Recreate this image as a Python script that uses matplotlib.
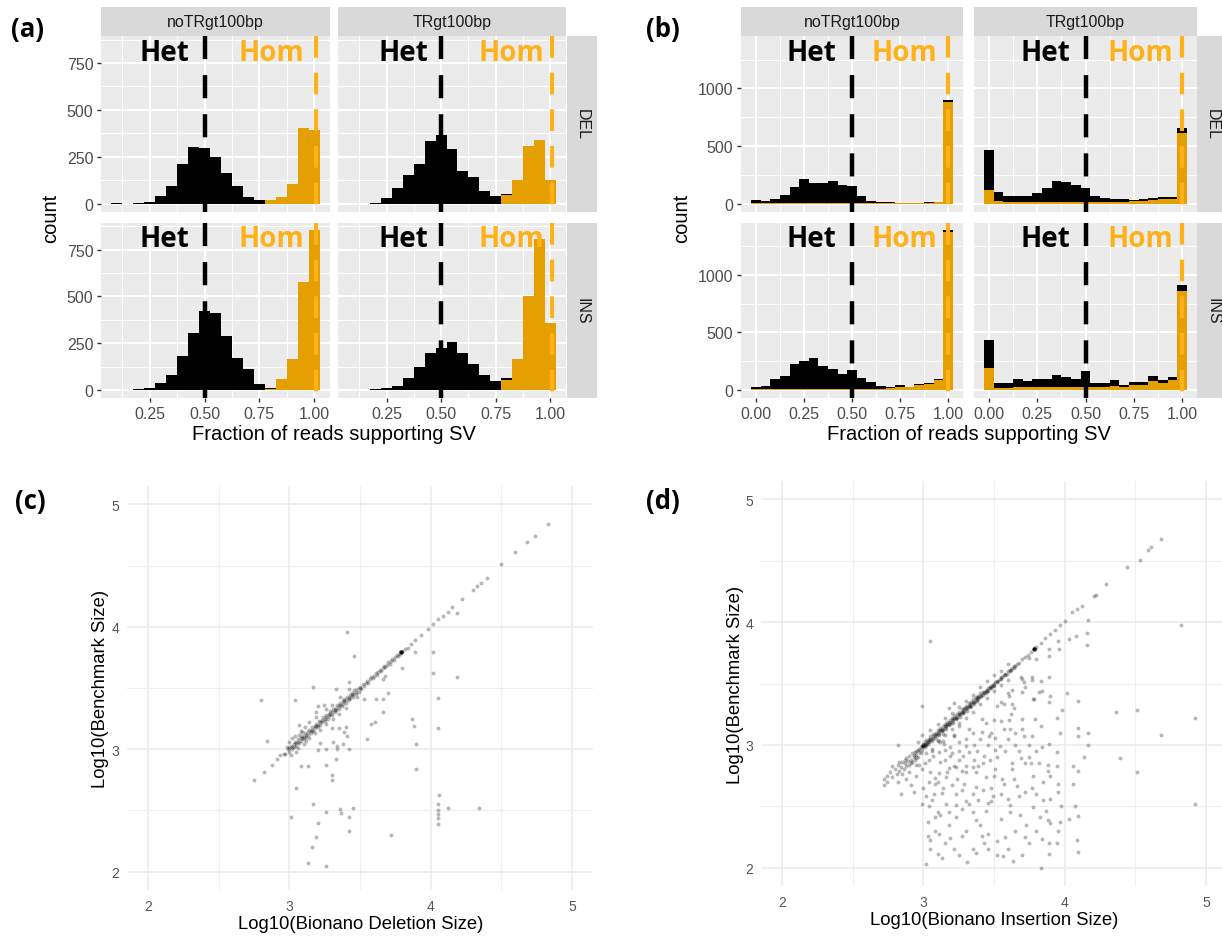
import matplotlib
matplotlib.use('Agg')
import matplotlib.pyplot as plt
from matplotlib.patches import Rectangle
import numpy as np

plt.rcParams['font.family'] = ['Liberation Sans', 'DejaVu Sans']

# ---------------- data: panel (a) ----------------
a_bins = [0.10, 0.15, 0.20, 0.25, 0.30, 0.35, 0.40, 0.45, 0.50, 0.55,
          0.60, 0.65, 0.70, 0.75, 0.80, 0.85, 0.90, 0.95, 1.00]
a_noTR_DEL_het = [2, 0, 3, 9, 42, 91, 212, 302, 299, 250, 163, 91, 33, 18, 0, 0, 0, 0, 0]
a_noTR_DEL_hom = [0, 0, 0, 0, 0, 0, 0, 0, 0, 0, 0, 0, 0, 0, 18, 33, 103, 404, 393]
a_TR_DEL_het = [0, 0, 5, 27, 82, 152, 211, 332, 368, 291, 175, 139, 68, 40, 5, 0, 0, 0, 0]
a_TR_DEL_hom = [0, 0, 0, 0, 0, 0, 0, 0, 0, 0, 0, 0, 0, 0, 45, 125, 308, 340, 128]
a_noTR_INS_het = [0, 0, 3, 12, 36, 80, 182, 302, 420, 411, 289, 170, 114, 30, 5, 0, 0, 0, 0]
a_noTR_INS_hom = [0, 0, 0, 0, 0, 0, 0, 0, 0, 0, 0, 0, 0, 0, 8, 57, 164, 579, 852]
a_TR_INS_het = [0, 0, 3, 12, 21, 62, 123, 200, 227, 254, 200, 141, 80, 48, 8, 0, 0, 0, 0]
a_TR_INS_hom = [0, 0, 0, 0, 0, 0, 0, 0, 0, 0, 0, 0, 0, 0, 55, 168, 504, 805, 356]

# ---------------- data: panel (b) ----------------
b_bins = [0.00, 0.05, 0.10, 0.15, 0.20, 0.25, 0.30, 0.35, 0.40, 0.45, 0.50,
          0.55, 0.60, 0.65, 0.70, 0.75, 0.80, 0.85, 0.90, 0.95, 1.00]
b_noTR_DEL_het = [21, 15, 33, 68, 140, 204, 175, 169, 190, 155, 149, 63, 23, 12, 6, 3, 2, 2, 3, 3, 15]
b_noTR_DEL_hom = [8, 5, 5, 5, 5, 5, 5, 5, 5, 5, 5, 4, 3, 3, 3, 3, 4, 4, 6, 12, 880]
b_TR_DEL_het = [347, 73, 49, 49, 49, 77, 121, 184, 170, 150, 121, 52, 37, 25, 25, 14, 15, 17, 18, 13, 43]
b_TR_DEL_hom = [121, 25, 15, 15, 15, 15, 15, 15, 15, 15, 15, 12, 12, 15, 15, 18, 25, 32, 40, 42, 613]
b_noTR_INS_het = [21, 27, 84, 113, 213, 241, 270, 198, 169, 126, 161, 95, 57, 23, 11, 10, 7, 9, 12, 13, 10]
b_noTR_INS_hom = [8, 8, 8, 8, 10, 10, 10, 10, 10, 10, 12, 12, 12, 12, 15, 30, 22, 40, 52, 85, 1375]
b_TR_INS_het = [240, 44, 44, 70, 56, 73, 67, 105, 88, 67, 135, 33, 34, 49, 18, 29, 24, 41, 24, 23, 56]
b_TR_INS_hom = [194, 20, 20, 22, 22, 25, 25, 25, 25, 25, 30, 25, 30, 35, 25, 40, 45, 80, 60, 90, 860]

facet_cols = ['noTRgt100bp', 'TRgt100bp']
facet_rows = ['DEL', 'INS']

# ---------------- data: panel (c) (log10 sizes) ----------------
c_points = [
    (3.41, 3.96), (3.46, 3.76), (3.17, 3.51), (3.04, 3.40), (2.80, 3.40), (2.84, 3.07),
    (2.75, 2.75), (2.82, 2.81), (2.875, 2.87), (2.91, 2.92), (2.93, 2.95), (2.96, 2.96),
    (3.33, 3.49), (3.42, 3.55), (3.525, 3.41), (3.61, 3.41), (3.66, 3.41), (3.70, 3.46),
    (3.66, 3.30), (3.58, 3.21), (3.605, 3.22), (3.55, 3.08), (3.865, 3.245), (3.88, 3.19),
    (3.90, 3.04), (3.90, 2.84), (4.05, 3.42), (4.05, 3.17), (4.02, 3.79), (4.02, 3.62),
    (4.19, 3.59), (4.19, 4.11), (3.89, 3.79), (3.80, 3.66), (3.66, 3.57), (3.68, 3.60),
    (3.07, 3.20), (3.09, 3.14), (3.19, 3.30), (3.20, 3.35), (3.245, 3.36), (3.30, 3.17),
    (3.35, 3.17), (3.40, 3.18), (3.39, 3.14), (3.405, 3.11), (3.31, 3.06), (3.34, 3.03),
    (3.38, 3.04), (3.42, 3.005), (3.34, 3.00), (3.26, 3.005), (3.205, 2.99), (3.22, 3.05),
    (3.26, 2.87), (3.30, 2.79), (3.30, 2.75), (3.33, 2.92), (3.08, 2.86), (3.13, 2.86),
    (3.045, 2.68), (3.17, 2.55), (3.26, 2.49), (3.36, 2.51), (3.365, 2.48), (3.45, 2.52),
    (3.42, 2.45), (3.01, 2.45), (3.20, 2.40), (3.42, 2.33), (3.19, 2.28), (3.16, 2.20),
    (3.13, 2.07), (3.26, 2.05), (3.72, 2.30), (4.06, 2.625), (4.05, 2.55), (4.05, 2.50),
    (4.05, 2.47), (4.05, 2.44), (4.05, 2.39), (4.12, 2.52), (4.34, 2.52),
    (4.02, 4.02), (3.98, 3.98), (3.93, 3.93), (3.89, 3.89), (3.84, 3.83), (4.05, 4.06),
    (4.09, 4.09), (4.12, 4.12), (4.15, 4.16), (4.225, 4.23), (4.30, 4.30), (4.33, 4.33),
    (4.36, 4.36), (4.40, 4.40), (4.50, 4.51), (4.60, 4.61), (4.68, 4.69), (4.74, 4.74),
    (4.83, 4.84),
    (2.97, 2.96), (2.99, 3.00), (3.00, 2.98), (3.00, 3.01), (3.01, 3.03), (3.02, 3.00),
    (3.03, 3.04), (3.03, 3.02), (3.04, 3.06), (3.05, 3.03), (3.05, 3.05), (3.06, 3.08),
    (3.07, 3.05), (3.08, 3.09), (3.08, 3.07), (3.09, 3.11), (3.10, 3.08), (3.10, 3.10),
    (3.11, 3.13), (3.12, 3.10), (3.13, 3.14), (3.13, 3.12), (3.14, 3.16), (3.15, 3.13),
    (3.15, 3.15), (3.16, 3.18), (3.17, 3.15), (3.18, 3.19), (3.18, 3.17), (3.19, 3.21),
    (3.20, 3.18), (3.20, 3.20), (3.21, 3.23), (3.22, 3.20), (3.23, 3.24), (3.23, 3.22),
    (3.24, 3.26), (3.25, 3.23), (3.25, 3.25), (3.26, 3.28), (3.27, 3.25), (3.28, 3.29),
    (3.28, 3.27), (3.29, 3.31), (3.30, 3.28), (3.30, 3.30), (3.31, 3.33), (3.32, 3.30),
    (3.33, 3.34), (3.33, 3.32), (3.34, 3.36), (3.35, 3.33), (3.35, 3.35), (3.36, 3.38),
    (3.37, 3.35), (3.38, 3.39), (3.38, 3.37), (3.39, 3.41), (3.40, 3.38), (3.40, 3.40),
    (3.41, 3.43), (3.42, 3.40), (3.43, 3.44), (3.43, 3.42), (3.44, 3.46), (3.45, 3.43),
    (3.45, 3.45), (3.46, 3.48), (3.47, 3.45), (3.48, 3.49), (3.49, 3.47), (3.50, 3.51),
    (3.51, 3.49), (3.52, 3.53), (3.53, 3.52), (3.55, 3.56), (3.56, 3.54), (3.58, 3.59),
    (3.59, 3.58), (3.61, 3.62), (3.62, 3.61), (3.64, 3.65), (3.65, 3.64), (3.67, 3.68),
    (3.68, 3.67), (3.70, 3.71), (3.71, 3.70), (3.73, 3.74), (3.74, 3.73), (3.76, 3.77),
    (3.77, 3.76), (3.78, 3.78), (3.79, 3.79), (3.79, 3.79), (3.79, 3.79), (3.79, 3.79),
    (3.79, 3.79), (3.79, 3.79), (3.80, 3.79), (3.78, 3.79), (3.80, 3.80), (3.82, 3.82),
    (3.86, 3.86), (3.04, 3.11), (3.08, 3.15), (3.11, 3.18), (3.06, 3.01), (3.10, 3.04),
    (3.14, 3.09), (3.18, 3.13), (3.22, 3.16), (3.26, 3.21), (3.14, 3.22), (3.19, 3.26),
    (3.26, 3.33), (3.30, 3.36), (3.31, 3.25), (3.35, 3.29), (3.40, 3.34), (3.36, 3.43),
    (3.42, 3.49), (3.48, 3.43), (3.00, 3.06), (3.02, 3.09), (2.98, 3.02), (3.01, 2.95),
    (3.05, 2.98), (3.07, 3.12), (3.12, 3.07),
    (3.02, 3.02), (3.06, 3.06), (3.09, 3.09), (3.12, 3.12), (3.16, 3.16), (3.19, 3.19),
    (3.22, 3.22), (3.26, 3.26), (3.29, 3.29), (3.32, 3.32), (3.36, 3.36), (3.39, 3.39),
    (3.42, 3.42), (3.44, 3.44), (3.47, 3.47), (3.50, 3.50), (3.54, 3.54), (3.57, 3.57),
    (3.60, 3.60), (3.63, 3.63), (3.66, 3.66), (3.69, 3.69), (3.72, 3.72), (3.75, 3.75),
]

# ---------------- data: panel (d) (log10 sizes) ----------------
d_points = [
    (4.68, 4.68), (4.61, 4.61), (4.59, 4.59), (4.535, 4.505), (4.44, 4.45), (4.295, 4.31),
    (4.22, 4.22), (4.21, 4.21), (4.12, 4.13), (4.09, 4.11), (4.05, 4.08), (4.005, 4.01),
    (3.97, 3.98), (3.93, 3.94), (3.90, 3.90), (3.86, 3.87), (3.83, 3.83),
    (4.825, 3.98), (3.05, 3.845), (4.165, 4.02), (4.16, 3.91), (4.16, 3.81), (4.08, 3.89),
    (4.03, 3.86), (3.95, 3.85), (3.96, 3.785), (3.89, 3.785), (3.89, 3.725), (3.80, 3.70),
    (3.745, 3.71), (3.69, 3.55), (3.77, 3.55), (3.89, 3.55), (3.71, 3.51), (3.84, 3.44),
    (3.775, 3.37), (3.90, 3.40), (3.89, 3.35), (4.015, 3.42), (4.095, 3.36), (3.98, 3.285),
    (3.945, 3.215), (3.97, 3.095), (4.095, 3.14), (4.165, 3.095), (4.095, 3.07), (4.165, 3.0),
    (3.89, 3.01), (3.84, 2.98), (3.945, 2.94), (3.88, 2.84), (3.945, 2.83), (3.88, 2.79),
    (4.06, 2.83), (4.095, 2.79), (4.135, 2.90), (4.06, 2.68), (3.95, 2.68), (3.95, 2.62),
    (3.90, 2.56), (3.975, 2.50), (4.075, 2.50), (4.095, 2.42), (4.03, 2.40), (3.97, 2.37),
    (3.95, 2.30), (3.90, 2.36), (3.825, 2.41), (3.87, 2.46), (3.88, 2.39), (3.84, 2.23),
    (3.89, 2.20), (3.945, 2.20), (4.09, 2.225), (4.095, 2.13), (3.89, 2.11), (3.83, 2.0),
    (3.635, 2.055), (3.565, 2.095), (3.46, 2.155), (3.43, 2.20), (3.37, 2.12), (3.31, 2.045),
    (3.22, 2.15), (3.13, 2.075), (3.10, 2.11), (3.02, 2.03), (3.03, 2.26), (3.05, 2.225),
    (3.11, 2.27), (3.19, 2.245), (3.27, 2.26), (3.415, 2.26), (3.46, 2.27), (3.52, 2.22),
    (3.03, 2.37), (3.085, 2.41), (3.12, 2.43), (3.18, 2.45), (3.23, 2.41), (3.37, 2.39),
    (3.445, 2.46), (3.46, 2.53), (3.32, 2.52), (3.23, 2.51), (3.04, 2.50), (2.99, 2.52),
    (3.61, 2.51), (3.615, 2.45), (3.685, 2.43), (3.73, 2.35), (3.775, 2.49),
    (3.075, 2.60), (3.13, 2.61), (3.23, 2.60), (3.30, 2.545), (3.39, 2.55), (3.48, 2.545),
    (3.49, 2.585), (3.37, 2.66), (3.48, 2.645), (3.555, 2.725), (3.57, 2.68), (3.64, 2.72),
    (3.66, 2.665), (3.77, 2.65), (3.775, 2.745), (3.72, 2.85), (3.765, 2.85), (3.82, 2.85),
    (3.69, 2.89), (3.63, 2.85), (3.63, 2.80), (3.51, 2.80), (3.50, 2.745), (3.445, 2.74),
    (3.37, 2.78), (3.30, 2.83), (3.30, 2.775), (3.23, 2.82), (3.18, 2.81), (3.11, 2.77),
    (3.085, 2.73), (3.04, 2.70), (3.10, 2.70), (3.16, 2.74), (3.24, 2.72), (3.285, 2.68),
    (2.91, 2.67), (2.84, 2.60), (2.82, 2.70), (2.72, 2.67), (2.74, 2.75), (2.78, 2.83),
    (2.825, 2.86), (2.87, 2.88), (2.91, 2.855), (2.945, 2.89), (2.97, 2.84), (2.99, 2.80),
    (3.01, 2.85), (3.04, 2.88), (3.065, 2.91), (3.11, 2.94), (3.155, 2.88), (3.19, 2.91),
    (3.22, 2.83), (3.255, 2.88), (3.28, 2.91), (3.32, 2.94), (3.355, 2.88), (3.39, 2.83),
    (3.43, 2.91), (3.47, 2.88), (3.505, 2.96), (3.54, 2.99), (3.51, 3.06), (3.465, 3.07),
    (3.415, 3.105), (3.44, 3.18), (3.415, 3.21), (3.36, 3.0), (3.30, 2.99), (3.25, 3.02),
    (3.19, 2.98), (3.145, 3.005), (3.10, 3.03), (3.14, 3.09), (3.215, 3.07), (3.255, 3.15),
    (3.32, 3.13), (3.57, 3.13), (3.55, 3.195), (3.605, 3.20), (3.61, 3.13), (3.70, 3.21),
    (3.71, 3.07), (3.77, 3.07), (3.83, 3.15), (3.79, 3.21), (3.70, 3.13), (3.645, 3.30),
    (3.63, 3.33), (3.605, 3.40), (3.60, 3.425), (3.63, 3.45), (3.52, 3.32), (3.57, 3.33),
    (3.70, 3.43), (3.72, 3.47), (3.78, 3.37), (3.82, 3.43), (3.70, 3.535), (3.77, 3.53),
    (3.835, 3.52), (4.365, 3.27), (4.51, 3.285), (4.925, 3.22), (4.685, 3.08), (4.395, 2.89),
    (4.51, 2.78), (4.92, 2.52), (2.99, 3.32), (2.82, 3.0),
    (3.06, 2.95), (3.15, 2.96), (3.20, 2.93), (3.25, 2.95), (3.12, 2.86), (3.17, 2.78),
    (3.27, 2.79), (3.35, 2.82), (3.42, 2.85), (3.38, 2.95), (3.46, 3.00), (3.52, 2.90),
    (3.58, 2.95), (3.60, 3.05), (3.65, 3.00), (3.68, 2.95), (3.05, 2.78), (3.08, 2.68),
    (3.14, 2.65), (3.20, 2.67), (3.27, 2.63), (3.35, 2.60), (3.42, 2.63), (3.55, 2.60),
    (3.60, 2.56), (3.68, 2.58), (3.72, 2.62), (3.06, 2.55), (3.16, 2.52), (3.27, 2.48),
    (3.35, 2.45), (3.55, 2.40), (3.65, 2.30), (3.72, 2.25), (3.60, 2.15), (3.52, 2.10),
    (3.25, 2.10), (3.18, 2.35), (3.30, 2.30), (3.08, 2.30), (3.40, 2.35), (3.00, 2.65),
    (2.95, 2.75), (2.88, 2.72), (2.93, 2.62), (3.02, 2.58), (3.10, 2.45), (3.05, 2.15),
    (3.15, 2.20), (3.35, 2.15), (3.58, 2.25), (3.80, 2.30), (3.75, 2.20), (3.70, 2.10),
    (3.85, 2.55), (3.80, 2.60), (3.85, 2.70), (3.90, 2.75), (3.75, 2.90), (3.80, 2.95),
    (3.65, 3.10), (3.75, 3.00), (3.62, 3.25), (3.55, 3.35), (3.50, 3.20), (3.48, 3.10),
    (3.40, 3.05), (3.35, 3.10), (3.30, 3.05), (3.22, 3.08), (3.14, 3.03),
    (2.72, 2.72), (2.74, 2.70), (2.76, 2.78), (2.78, 2.74), (2.80, 2.80), (2.81, 2.76),
    (2.82, 2.84), (2.83, 2.79), (2.84, 2.82), (2.85, 2.86), (2.86, 2.80), (2.87, 2.85),
    (2.88, 2.89), (2.88, 2.83), (2.89, 2.87), (2.90, 2.91), (2.90, 2.84), (2.91, 2.88),
    (2.92, 2.93), (2.92, 2.86), (2.93, 2.90), (2.94, 2.94), (2.94, 2.88), (2.95, 2.92),
    (2.96, 2.96), (2.96, 2.90), (2.97, 2.94), (2.98, 2.98), (2.98, 2.93), (2.99, 2.96),
    (3.00, 3.00), (3.00, 2.99), (3.00, 2.99), (3.00, 2.99), (3.01, 3.00), (3.01, 2.98),
    (3.01, 3.02), (3.02, 3.01), (3.02, 3.04), (3.03, 3.01), (3.03, 3.03), (3.04, 3.05),
    (3.04, 3.02), (3.05, 3.04), (3.05, 3.07), (3.06, 3.05), (3.06, 3.03), (3.07, 3.07),
    (3.07, 3.09), (3.08, 3.06), (3.08, 3.08), (3.09, 3.10), (3.09, 3.07), (3.10, 3.09),
    (3.10, 3.12), (3.11, 3.10), (3.11, 3.08), (3.12, 3.12), (3.12, 3.14), (3.13, 3.11),
    (3.13, 3.13), (3.14, 3.15), (3.14, 3.12), (3.15, 3.14), (3.15, 3.17), (3.16, 3.15),
    (3.16, 3.13), (3.17, 3.17), (3.17, 3.19), (3.18, 3.16), (3.18, 3.18), (3.19, 3.20),
    (3.19, 3.17), (3.20, 3.19), (3.20, 3.22), (3.21, 3.20), (3.21, 3.18), (3.22, 3.22),
    (3.22, 3.24), (3.23, 3.21), (3.23, 3.23), (3.24, 3.25), (3.24, 3.22), (3.25, 3.24),
    (3.25, 3.27), (3.26, 3.25), (3.26, 3.23), (3.27, 3.27), (3.27, 3.29), (3.28, 3.26),
    (3.28, 3.28), (3.29, 3.30), (3.29, 3.27), (3.30, 3.29), (3.30, 3.32), (3.31, 3.30),
    (3.31, 3.28), (3.32, 3.32), (3.32, 3.34), (3.33, 3.31), (3.33, 3.33), (3.34, 3.35),
    (3.34, 3.32), (3.35, 3.34), (3.35, 3.37), (3.36, 3.35), (3.36, 3.33), (3.37, 3.37),
    (3.37, 3.39), (3.38, 3.36), (3.38, 3.38), (3.39, 3.40), (3.39, 3.37), (3.40, 3.39),
    (3.40, 3.42), (3.41, 3.40), (3.42, 3.41), (3.42, 3.43), (3.43, 3.42), (3.44, 3.44),
    (3.44, 3.42), (3.45, 3.45), (3.46, 3.46), (3.46, 3.44), (3.47, 3.47), (3.48, 3.48),
    (3.48, 3.46), (3.49, 3.49), (3.50, 3.50), (3.50, 3.48), (3.51, 3.51), (3.52, 3.52),
    (3.53, 3.52), (3.54, 3.54), (3.55, 3.55), (3.56, 3.55), (3.57, 3.57), (3.58, 3.58),
    (3.59, 3.58), (3.60, 3.60), (3.61, 3.61), (3.62, 3.61), (3.63, 3.63), (3.64, 3.64),
    (3.65, 3.64), (3.66, 3.66), (3.68, 3.67), (3.70, 3.70), (3.72, 3.72), (3.74, 3.73),
    (3.76, 3.76), (3.78, 3.78), (3.78, 3.79), (3.78, 3.78), (3.78, 3.78), (3.78, 3.78),
    (3.78, 3.78), (3.78, 3.78), (3.79, 3.78), (3.80, 3.80),
    (3.05, 3.12), (3.10, 3.17), (3.15, 3.22), (3.20, 3.26), (3.25, 3.31), (3.30, 3.36),
    (3.35, 3.41), (3.22, 3.34), (3.18, 3.30), (3.10, 3.04), (3.15, 3.08), (3.20, 3.13),
    (3.25, 3.18), (3.30, 3.22), (3.35, 3.27), (3.40, 3.33), (3.45, 3.38), (3.50, 3.44),
    (3.55, 3.49), (3.60, 3.53), (2.95, 2.84), (2.90, 2.78), (2.85, 2.76), (3.02, 2.93),
    (3.06, 2.97), (3.12, 3.02), (2.99, 3.08), (2.96, 3.02), (3.40, 3.47), (3.45, 3.52),
    (3.50, 3.57), (3.55, 3.60), (3.60, 3.66),
    (3.01, 3.01), (3.03, 3.02), (3.05, 3.05), (3.07, 3.06), (3.09, 3.09), (3.11, 3.11),
    (3.13, 3.12), (3.15, 3.15), (3.17, 3.16), (3.19, 3.19), (3.21, 3.21), (3.23, 3.22),
    (3.25, 3.25), (3.27, 3.26), (3.29, 3.29), (3.31, 3.31), (3.33, 3.32), (3.35, 3.35),
    (3.37, 3.36), (3.39, 3.39), (3.41, 3.41), (3.43, 3.43), (3.45, 3.44), (3.47, 3.46),
    (3.49, 3.48), (3.52, 3.51), (3.55, 3.54), (3.58, 3.57), (3.61, 3.60), (3.64, 3.63),
    (2.97, 2.97), (2.99, 2.99), (3.00, 3.01), (3.02, 3.00), (2.95, 2.95), (2.93, 2.92),
]

# ---------------- layout helpers (pixel coordinates) ----------------
W, H = 1222, 937
fig = plt.figure(figsize=(W / 100, H / 100), dpi=100)
fig.patch.set_facecolor('white')

ORANGE_BAR = '#E69F00'
ORANGE_LINE = '#FFB11B'
STRIP = '#D9D9D9'
PANEL = '#EBEBEB'


def rect(x0, y0, x1, y1):
    return [x0 / W, 1 - y1 / H, (x1 - x0) / W, (y1 - y0) / H]


def ftext(x, y, s, **kw):
    kw.setdefault('ha', 'center')
    kw.setdefault('va', 'center')
    fig.text(x / W, 1 - y / H, s, **kw)


def fbox(x0, y0, x1, y1, color):
    fig.add_artist(Rectangle((x0 / W, 1 - y1 / H), (x1 - x0) / W, (y1 - y0) / H,
                             transform=fig.transFigure, facecolor=color,
                             edgecolor='none', zorder=0))


def hist_facet(box, centers, het, hom, xlim, ylim, xmaj, xlab, xmin, ymaj, ylab, ymin,
               show_x, show_y, het_x, hom_x, txt_y, hom_line_x):
    ax = fig.add_axes(rect(*box))
    ax.set_facecolor(PANEL)
    c = np.array(centers)
    edges = np.append(c - 0.025, c[-1] + 0.025)
    het = np.array(het, dtype=float)
    hom = np.array(hom, dtype=float)
    ax.stairs(hom, edges, baseline=0, fill=True, color=ORANGE_BAR, lw=0, zorder=2)
    ax.stairs(hom + het, edges, baseline=hom, fill=True, color='black', lw=0, zorder=2)
    ax.set_xlim(*xlim)
    ax.set_ylim(*ylim)
    ax.set_xticks(xmaj)
    ax.set_xticklabels(xlab)
    ax.set_xticks(xmin, minor=True)
    ax.set_yticks(ymaj)
    ax.set_yticklabels(ylab)
    ax.set_yticks(ymin, minor=True)
    ax.set_axisbelow(True)
    ax.grid(True, which='major', color='white', lw=1.4)
    ax.grid(True, which='minor', color='white', lw=0.7)
    for s in ax.spines.values():
        s.set_visible(False)
    ax.tick_params(which='minor', length=0)
    ax.tick_params(which='major', length=3, width=1.0, color='#333333',
                   labelsize=11.5, labelcolor='#4D4D4D', pad=2.5)
    ax.tick_params(axis='x', bottom=show_x, labelbottom=show_x)
    ax.tick_params(axis='y', left=show_y, labelleft=show_y)
    dash = (0, (5.2, 3.6))
    ax.plot([0.5, 0.5], [ylim[1], ylim[0]], color='black', lw=3.2,
            linestyle=dash, zorder=4)
    ax.plot([hom_line_x, hom_line_x], [ylim[1], ylim[0]], color=ORANGE_LINE,
            lw=3.0, linestyle=dash, zorder=4)
    ax.text(het_x, txt_y, 'Het', ha='right', va='center', fontsize=20,
            fontweight='bold', family=['Open Sans', 'DejaVu Sans'], color='black', zorder=5)
    ax.text(hom_x, txt_y, 'Hom', ha='right', va='center', fontsize=20,
            fontweight='bold', family=['Open Sans', 'DejaVu Sans'], color=ORANGE_LINE, zorder=5)
    return ax


def hist_block(cols_x, rows_y, strip_right, centers, data, xlim, xmaj, xlab, xmin,
               ymaj, ylab, ymin, het_x, hom_x, txt_frac, hom_line_x):
    M = max(max(np.array(h) + np.array(o)) for h, o in data)
    ylim = (-0.05 * M, 1.05 * M)
    txt_y = ylim[1] - txt_frac * (ylim[1] - ylim[0])
    k = 0
    for r, (y0, y1) in enumerate(rows_y):
        for cidx, (x0, x1) in enumerate(cols_x):
            het, hom = data[k]
            k += 1
            hist_facet((x0, y0, x1, y1), centers, het, hom, xlim, ylim, xmaj, xlab, xmin,
                       ymaj, ylab, ymin, show_x=(r == 1), show_y=(cidx == 0),
                       het_x=het_x[cidx], hom_x=hom_x[cidx], txt_y=txt_y,
                       hom_line_x=hom_line_x)
    for cidx, (x0, x1) in enumerate(cols_x):
        fbox(x0, 8, x1, 37, STRIP)
        ftext((x0 + x1) / 2, 22.5, facet_cols[cidx], fontsize=11.5, color='#1A1A1A')
    for r, (y0, y1) in enumerate(rows_y):
        fbox(strip_right[0], y0, strip_right[1], y1, STRIP)
        ftext((strip_right[0] + strip_right[1]) / 2, (y0 + y1) / 2, facet_rows[r],
              fontsize=11.5, color='#1A1A1A', rotation=270)


rows_y = [(37, 212.5), (223.5, 399)]

# ---- panel (a)
hist_block(cols_x=[(101, 330), (338, 566)], rows_y=rows_y, strip_right=(567, 597),
           centers=a_bins,
           data=[(a_noTR_DEL_het, a_noTR_DEL_hom), (a_TR_DEL_het, a_TR_DEL_hom),
                 (a_noTR_INS_het, a_noTR_INS_hom), (a_TR_INS_het, a_TR_INS_hom)],
           xlim=(0.0275, 1.0725), xmaj=[0.25, 0.5, 0.75, 1.0],
           xlab=['0.25', '0.50', '0.75', '1.00'], xmin=[0.125, 0.375, 0.625, 0.875],
           ymaj=[0, 250, 500, 750], ylab=['0', '250', '500', '750'],
           ymin=[125, 375, 625, 875], het_x=[0.43, 0.44], hom_x=[0.955, 0.972],
           txt_frac=0.092, hom_line_x=1.01)
ftext(333.5, 435, 'Fraction of reads supporting SV', fontsize=14.5)
ftext(51, 218, 'count', fontsize=14.5, rotation=90)

# ---- panel (b)
hist_block(cols_x=[(741, 963), (974, 1197)], rows_y=rows_y, strip_right=(1197, 1228),
           centers=b_bins,
           data=[(b_noTR_DEL_het, b_noTR_DEL_hom), (b_TR_DEL_het, b_TR_DEL_hom),
                 (b_noTR_INS_het, b_noTR_INS_hom), (b_TR_INS_het, b_TR_INS_hom)],
           xlim=(-0.0775, 1.0775), xmaj=[0.0, 0.25, 0.5, 0.75, 1.0],
           xlab=['0.00', '0.25', '0.50', '0.75', '1.00'],
           xmin=[0.125, 0.375, 0.625, 0.875],
           ymaj=[0, 500, 1000], ylab=['0', '500', '1000'], ymin=[250, 750, 1250],
           het_x=[0.42, 0.42], hom_x=[0.945, 0.955], txt_frac=0.092, hom_line_x=1.0)
ftext(969, 435, 'Fraction of reads supporting SV', fontsize=14.5)
ftext(682, 218, 'count', fontsize=14.5, rotation=90)


# ---- panels (c) and (d)
def scatter_panel(box, pts, xlabel_txt, xlab_pos, ylab_pos):
    ax = fig.add_axes(rect(*box))
    ax.set_facecolor('white')
    xs = [p[0] for p in pts]
    ys = [p[1] for p in pts]
    ax.scatter(xs, ys, s=8, c='black', alpha=0.28, linewidths=0, zorder=3)
    ax.set_xlim(1.85, 5.15)
    ax.set_ylim(1.85, 5.15)
    ax.set_xticks([2, 3, 4, 5])
    ax.set_yticks([2, 3, 4, 5])
    ax.set_xticks([2.5, 3.5, 4.5], minor=True)
    ax.set_yticks([2.5, 3.5, 4.5], minor=True)
    ax.set_axisbelow(True)
    ax.grid(True, which='major', color='#EBEBEB', lw=1.1)
    ax.grid(True, which='minor', color='#EFEFEF', lw=0.8)
    for s in ax.spines.values():
        s.set_visible(False)
    ax.tick_params(which='both', length=0)
    ax.tick_params(axis='x', labelsize=10, labelcolor='#555555', pad=6.5)
    ax.tick_params(axis='y', labelsize=10, labelcolor='#555555', pad=5.5)
    ftext(*xlab_pos, xlabel_txt, fontsize=13.3)
    ftext(*ylab_pos, 'Log10(Benchmark Size)', fontsize=13.3, rotation=90)


scatter_panel((127, 487, 593, 891), c_points, 'Log10(Bionano Deletion Size)',
              (361, 925), (100, 689))
scatter_panel((761, 482, 1227, 887), d_points, 'Log10(Bionano Insertion Size)',
              (994, 921), (736, 685))

# ---- panel letters
for lab, x, y in [('(a)', 28, 30), ('(b)', 663, 29), ('(c)', 30, 502), ('(d)', 663, 502)]:
    ftext(x, y, lab, fontsize=18.5, fontweight='bold', family=['Open Sans', 'DejaVu Sans'])

fig.savefig('out.png', dpi=100, facecolor='white')
